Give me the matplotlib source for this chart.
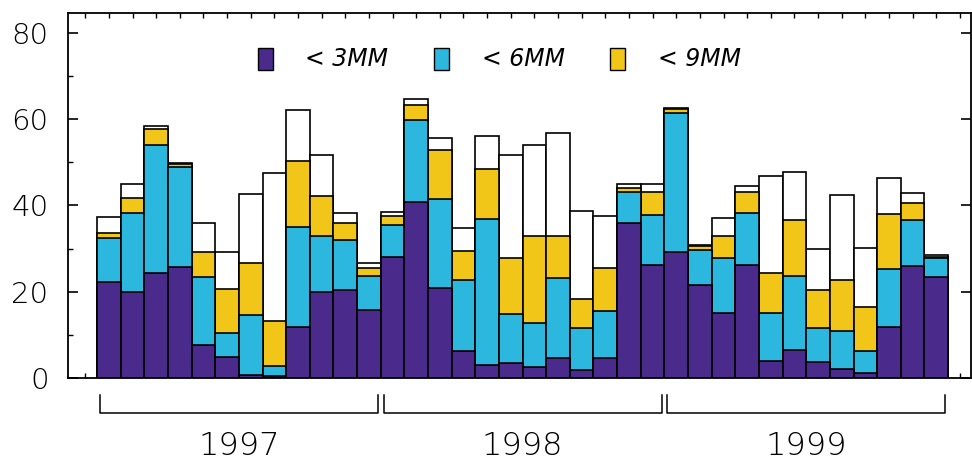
import numpy as np
import matplotlib.pyplot as plt
from matplotlib.patches import Rectangle
from matplotlib.transforms import blended_transform_factory

# cumulative share (%) per month, Jan 1997 .. Dec 1999
below_3mm = [22.3, 20.0, 24.4, 25.8, 7.7, 4.9, 0.6, 0.5, 11.8, 20.0, 20.4, 15.8,
             28.1, 40.7, 20.8, 6.3, 3.0, 3.4, 2.5, 4.6, 1.9, 4.6, 36.0, 26.2,
             29.1, 21.6, 15.1, 26.2, 4.0, 6.6, 3.6, 2.2, 1.1, 11.9, 26.0, 23.3]
below_6mm = [32.4, 38.2, 54.0, 48.8, 23.5, 10.4, 14.6, 2.8, 35.1, 32.8, 32.0, 23.7,
             35.5, 59.8, 41.4, 22.7, 36.8, 14.8, 12.7, 23.1, 11.5, 15.6, 43.2, 37.8,
             61.4, 29.7, 27.7, 38.2, 15.1, 23.7, 11.5, 10.9, 6.3, 25.3, 36.6, 27.7]
below_9mm = [33.7, 41.7, 57.8, 49.5, 29.1, 20.6, 26.6, 13.1, 50.2, 42.2, 35.9, 25.6,
             37.6, 63.2, 52.9, 29.4, 48.4, 27.9, 32.8, 32.9, 18.2, 25.4, 44.0, 43.0,
             62.3, 30.5, 32.9, 43.2, 24.3, 36.6, 20.4, 22.7, 16.5, 37.9, 40.5, 28.0]
total = [37.4, 44.9, 58.3, 49.9, 36.0, 29.1, 42.7, 47.5, 62.1, 51.7, 38.2, 26.6,
         38.4, 64.6, 55.7, 34.7, 56.0, 51.6, 54.0, 56.7, 38.6, 37.6, 44.9, 44.9,
         62.5, 30.8, 37.2, 44.4, 46.8, 47.8, 29.8, 42.4, 30.1, 46.3, 42.8, 28.4]
years = ["1997", "1998", "1999"]
labels = ["< 3MM", "< 6MM", "< 9MM"]

purple = "#4a2b8b"
cyan = "#2bb7de"
yellow = "#f2c619"

fig = plt.figure(figsize=(9.72, 4.65), dpi=100)
ax = fig.add_axes([68 / 972, 1 - 378 / 465, 903 / 972, 365 / 465])

x = np.arange(len(total))
# tallest first so the shorter cumulative bars sit on top
for vals, col in [(total, "white"), (below_9mm, yellow), (below_6mm, cyan), (below_3mm, purple)]:
    ax.bar(x, vals, width=1.0, color=col, edgecolor="black", linewidth=1.2)

ax.set_xlim(-1.73, 36.47)
ax.set_ylim(0, 84.6)
ax.set_axisbelow(True)

for s in ax.spines.values():
    s.set_linewidth(1.3)

ax.set_yticks([0, 20, 40, 60, 80])
ax.set_yticks([10, 30, 50, 70], minor=True)
ax.tick_params(axis="y", which="major", direction="in", length=7, width=1.2,
               labelsize=21, pad=14, right=True)
ax.tick_params(axis="y", which="minor", direction="in", length=3.5, width=1.0)
for t in ax.get_yticklabels():
    t.set_fontweight("light")
    t.set_color("black")

ax.set_xticks(np.arange(-1, 37))
ax.tick_params(axis="x", direction="in", length=3.5, width=1.0, top=True,
               labelbottom=False)

# year brackets under the axis
trans = blended_transform_factory(ax.transData, ax.transAxes)
for k, yr in enumerate(years):
    x0, x1 = 12 * k - 0.37, 12 * k + 11.39
    ax.plot([x0, x0, x1, x1], [-0.047, -0.096, -0.096, -0.047], color="black",
            lw=1.1, transform=trans, clip_on=False)
    ax.text(12 * k + 5.5, -0.185, yr, transform=trans, ha="center", va="center",
            fontsize=23, fontweight="light", color="black")

# legend row
ax_tr = ax.transAxes
for (sx, tx), lab, col in zip([(258, 305), (434, 482), (610, 658)], labels,
                              [purple, cyan, yellow]):
    ax.add_patch(Rectangle(((sx - 68) / 903, (378 - 70) / 365), 15 / 903, 22 / 365,
                           transform=ax_tr, facecolor=col, edgecolor="black",
                           lw=1.0, clip_on=False))
    ax.text((tx - 68) / 903, (378 - 59) / 365, lab, transform=ax_tr, ha="left",
            va="center", fontsize=17, style="italic", color="black")

fig.savefig("out.png", dpi=100)
